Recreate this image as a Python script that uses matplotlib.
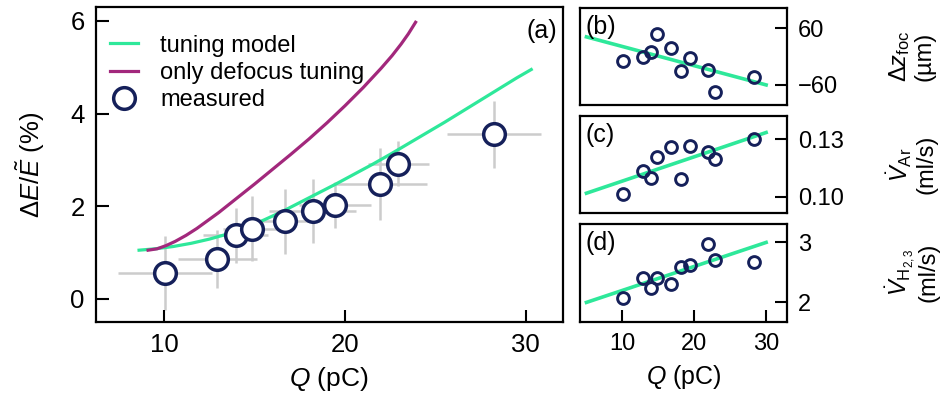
import matplotlib
matplotlib.use("Agg")
import matplotlib.pyplot as plt

plt.rcParams['font.family'] = ['Liberation Sans', 'DejaVu Sans']
plt.rcParams['mathtext.fontset'] = 'custom'
plt.rcParams['mathtext.rm'] = 'Liberation Sans'
plt.rcParams['mathtext.it'] = 'Liberation Sans:italic'
plt.rcParams['mathtext.bf'] = 'Liberation Sans:bold'

GREEN = '#2ee89a'
PURPLE = '#a2287c'
NAVY = '#15205a'
GREY = '#cccccc'

# measured points
Q = [10.05, 12.93, 13.94, 14.85, 16.7, 18.2, 19.43, 21.92, 22.95, 28.26]
Q_err = [2.6, 2.2, 1.8, 1.6, 1.9, 2.4, 2.0, 2.6, 1.7, 2.6]
dE = [0.55, 0.86, 1.37, 1.51, 1.67, 1.9, 2.03, 2.48, 2.92, 3.55]
dE_err = [0.8, 0.63, 0.6, 0.7, 0.7, 0.69, 0.5, 0.78, 0.48, 0.72]
dz = [-8.5, -1.4, 9.2, 48, 19.1, -30.4, -3.5, -28.2, -75.5, -42.4]
V_Ar = [0.1013, 0.1134, 0.1099, 0.1206, 0.1258, 0.1093, 0.1267, 0.1235, 0.1197, 0.1302]
V_H = [2.07, 2.40, 2.24, 2.41, 2.31, 2.59, 2.62, 2.97, 2.70, 2.68]

# model curves
model_Q = [8.6, 9.5, 10.5, 11.5, 12.5, 13.5, 14.5, 15.5, 16.5, 17.5, 18.5, 19.5,
           20.5, 21.5, 22.5, 23.5, 24.5, 25.5, 26.5, 27.5, 28.5, 29.5, 30.3]
model_dE = [1.05, 1.08, 1.13, 1.2, 1.29, 1.4, 1.54, 1.7, 1.88, 2.08, 2.28, 2.48,
            2.69, 2.9, 3.12, 3.35, 3.58, 3.81, 4.05, 4.29, 4.53, 4.77, 4.95]
defoc_Q = [9.1, 9.6, 10.1, 10.6, 11.2, 11.8, 12.4, 13, 14, 15, 16, 17, 18, 19,
           20, 21, 22, 22.6, 23.1, 23.5, 23.9]
defoc_dE = [1.05, 1.08, 1.15, 1.24, 1.37, 1.52, 1.69, 1.86, 2.17, 2.48, 2.8, 3.12,
            3.45, 3.8, 4.17, 4.56, 4.98, 5.25, 5.5, 5.72, 5.97]

# linear tuning settings
fit_Q = [5, 30]
fit_dz = [42, -60]
fit_V_Ar = [0.1018, 0.1336]
fit_V_H = [2.0, 3.0]

fig = plt.figure(figsize=(9.4, 3.99), dpi=100)

ax = fig.add_axes([0.1018, 0.193, 0.497, 0.7895])
ax.errorbar(Q, dE, xerr=Q_err, yerr=dE_err, fmt='none', ecolor=GREY, elinewidth=1.8, capsize=0, zorder=1)
ax.plot(model_Q, model_dE, color=GREEN, lw=2.3, label='tuning model', zorder=2)
ax.plot(defoc_Q, defoc_dE, color=PURPLE, lw=2.3, label='only defocus tuning', zorder=2)
ax.plot(Q, dE, 'o', ms=15.6, mfc='white', mec=NAVY, mew=2.5, label='measured', zorder=3)
ax.set_xlim(6.2, 32.05)
ax.set_ylim(-0.5, 6.3)
ax.set_xticks([10, 20, 30])
ax.set_yticks([0, 2, 4, 6])
ax.tick_params(direction='in', length=9, width=1.5, labelsize=18.5, pad=8)
ax.set_xlabel('$Q$ (pC)', fontsize=19, labelpad=6)
ax.set_ylabel(r'$\mathit{\Delta E/\tilde{E}}$ (%)', fontsize=18.5)
ax.yaxis.set_label_coords(-0.105, 0.5)
for s in ax.spines.values():
    s.set_linewidth(1.6)
ax.text(0.987, 0.962, '(a)', transform=ax.transAxes, ha='right', va='top', fontsize=18)
ax.legend(loc='upper left', bbox_to_anchor=(0.03, 0.912), frameon=False, fontsize=17,
          handlelength=1.2, handletextpad=0.95, labelspacing=0.22, borderaxespad=0, borderpad=0)

right = [
    (0.737, 0.979, dz, fit_dz, (-102.5, 102.5), [-60, 60], ['\u221260', '60'],
     '$\\Delta z_{\\rm foc}$\n(\u00b5m)', '(b)'),
    (0.467, 0.709, V_Ar, fit_V_Ar, (0.0916, 0.1422), [0.10, 0.13], ['0.10', '0.13'],
     '$\\dot{V}_{\\rm Ar}$\n(ml/s)', '(c)'),
    (0.194, 0.439, V_H, fit_V_H, (1.68, 3.31), [2, 3], ['2', '3'],
     '$\\dot{V}_{\\rm H_{2,3}}$\n(ml/s)', '(d)'),
]
for i, (b, t, vals, fit, lim, ticks, labels, ylab, tag) in enumerate(right):
    a = fig.add_axes([0.617, b, 0.2202, t - b])
    a.plot(fit_Q, fit, color=GREEN, lw=2.6, zorder=1)
    a.plot(Q, vals, 'o', ms=8.5, mfc='none', mec=NAVY, mew=2.1, zorder=2)
    a.set_xlim(4.1, 32.9)
    a.set_ylim(*lim)
    a.set_yticks(ticks)
    a.set_yticklabels(labels)
    a.yaxis.tick_right()
    a.set_xticks([10, 20, 30])
    a.tick_params(direction='in', length=9, width=1.5, labelsize=17, pad=8)
    if i < 2:
        a.tick_params(axis='x', bottom=False, labelbottom=False)
    else:
        a.set_xlabel('$Q$ (pC)', fontsize=18, labelpad=6)
    for s in a.spines.values():
        s.set_linewidth(1.6)
    a.text(0.025, 0.93, tag, transform=a.transAxes, ha='left', va='top', fontsize=18)
    a.text(1.6, 0.5, ylab, transform=a.transAxes, ha='center', va='center', rotation=90,
           fontsize=17, multialignment='center', linespacing=1.05)

fig.savefig('out.png', dpi=100)
